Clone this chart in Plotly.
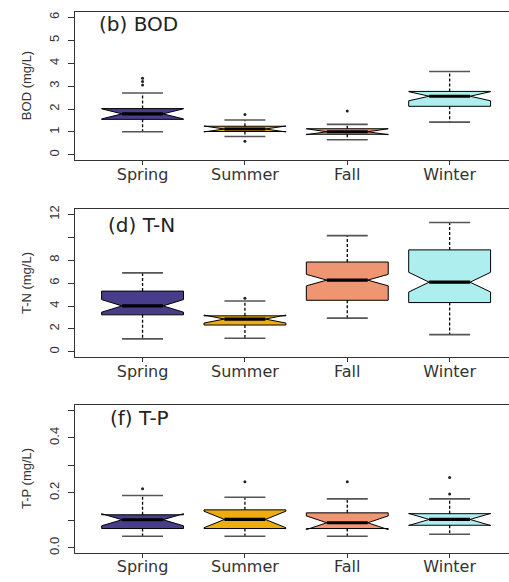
import plotly.graph_objects as go

seasons = ["Spring", "Summer", "Fall", "Winter"]
colors = ["#483D8B", "#EEAD0E", "#EE9572", "#AFEEEE"]

# (b) BOD
bod_q1 = [1.55, 1.02, 0.90, 2.12]
bod_med = [1.79, 1.13, 1.01, 2.56]
bod_q3 = [2.02, 1.25, 1.14, 2.77]
bod_lo = [1.01, 0.80, 0.66, 1.43]
bod_hi = [2.70, 1.52, 1.33, 3.64]
bod_notch = [0.22, 0.13, 0.13, 0.20]
bod_out = [[3.35, 3.20, 3.05], [1.76, 0.60], [1.92], []]

# (d) T-N
tn_q1 = [3.23, 2.34, 4.50, 4.30]
tn_med = [4.01, 2.86, 6.26, 6.08]
tn_q3 = [5.30, 3.14, 7.84, 8.90]
tn_lo = [1.13, 1.19, 2.94, 1.50]
tn_hi = [6.89, 4.44, 10.14, 11.29]
tn_notch = [0.55, 0.35, 0.50, 0.86]
tn_out = [[], [4.68], [], []]

# (f) T-P
tp_q1 = [0.070, 0.070, 0.070, 0.082]
tp_med = [0.102, 0.103, 0.091, 0.103]
tp_q3 = [0.120, 0.138, 0.127, 0.124]
tp_lo = [0.042, 0.042, 0.042, 0.049]
tp_hi = [0.190, 0.184, 0.178, 0.178]
tp_notch = [0.022, 0.030, 0.025, 0.022]
tp_out = [[0.215], [0.240], [0.240], [0.256, 0.196]]

panels = [
    dict(label="(b) BOD", title="BOD (mg/L)", q1=bod_q1, med=bod_med, q3=bod_q3,
         lo=bod_lo, hi=bod_hi, notch=bod_notch, out=bod_out,
         rng=[-0.24, 6.24], tv=[0, 1, 2, 3, 4, 5, 6], tt=["0", "1", "2", "3", "4", "5", "6"]),
    dict(label="(d) T-N", title="T-N (mg/L)", q1=tn_q1, med=tn_med, q3=tn_q3,
         lo=tn_lo, hi=tn_hi, notch=tn_notch, out=tn_out,
         rng=[-0.48, 12.48], tv=[0, 2, 4, 6, 8, 10, 12], tt=["0", "2", "4", "6", "8", "", "12"]),
    dict(label="(f) T-P", title="T-P (mg/L)", q1=tp_q1, med=tp_med, q3=tp_q3,
         lo=tp_lo, hi=tp_hi, notch=tp_notch, out=tp_out,
         rng=[-0.02, 0.52], tv=[0, 0.1, 0.2, 0.3, 0.4, 0.5], tt=["0.0", "", "0.2", "", "0.4", ""]),
]

H = 582.0
W = 509.0
frames = [(8, 158), (207, 357), (405, 555)]
label_pos = [(97, 20.5), (106, 223), (108, 418)]
xpos = [1, 2, 3, 4]
BW = 0.8

fig = go.Figure()
layout = dict(width=509, height=582, margin=dict(l=0, r=0, t=0, b=0),
              paper_bgcolor="white", plot_bgcolor="white", showlegend=False)
annotations = []

for k, p in enumerate(panels):
    sfx = "" if k == 0 else str(k + 1)
    xa, ya = "x" + sfx, "y" + sfx
    for i in range(4):
        fig.add_trace(go.Box(
            x=[xpos[i]], q1=[p["q1"][i]], median=[p["med"][i]], q3=[p["q3"][i]],
            lowerfence=[p["q1"][i]], upperfence=[p["q3"][i]], notchspan=[p["notch"][i]],
            notched=True, notchwidth=0.25, width=BW, whiskerwidth=0,
            fillcolor=colors[i], line=dict(color="black", width=1),
            boxpoints=False, hoverinfo="skip", xaxis=xa, yaxis=ya))
    wx, wy = [], []
    for i in range(4):
        wx += [xpos[i], xpos[i], None, xpos[i], xpos[i], None]
        wy += [p["q3"][i], p["hi"][i], None, p["q1"][i], p["lo"][i], None]
    fig.add_trace(go.Scatter(x=wx, y=wy, mode="lines",
                             line=dict(color="black", width=1.3, dash="3px,2px"),
                             hoverinfo="skip", xaxis=xa, yaxis=ya))
    sx, sy = [], []
    for i in range(4):
        for v in (p["hi"][i], p["lo"][i]):
            sx += [xpos[i] - BW / 4, xpos[i] + BW / 4, None]
            sy += [v, v, None]
    fig.add_trace(go.Scatter(x=sx, y=sy, mode="lines",
                             line=dict(color="#555555", width=1.6),
                             hoverinfo="skip", xaxis=xa, yaxis=ya))
    mx, my = [], []
    for i in range(4):
        mx += [xpos[i] - BW / 4, xpos[i] + BW / 4, None]
        my += [p["med"][i], p["med"][i], None]
    fig.add_trace(go.Scatter(x=mx, y=my, mode="lines",
                             line=dict(color="black", width=3.2),
                             hoverinfo="skip", xaxis=xa, yaxis=ya))
    ox, oy = [], []
    for i in range(4):
        for v in p["out"][i]:
            ox.append(xpos[i])
            oy.append(v)
    fig.add_trace(go.Scatter(x=ox, y=oy, mode="markers",
                             marker=dict(color="#222222", size=3),
                             hoverinfo="skip", xaxis=xa, yaxis=ya))

    top, bot = frames[k]
    dom = [1 - bot / H, 1 - top / H]
    layout["xaxis" + sfx] = dict(
        domain=[75 / W, 1], range=[0.34, 4.58], anchor=ya,
        tickvals=xpos, ticktext=seasons, ticks="outside", ticklen=4,
        tickcolor="#333", tickwidth=1, showline=True, mirror=True,
        linecolor="#333", linewidth=1, showgrid=False, zeroline=False,
        ticklabelstandoff=-5,
        tickfont=dict(family="DejaVu Sans", size=16, color="#333"))
    layout["yaxis" + sfx] = dict(
        domain=dom, range=p["rng"], anchor=xa,
        tickvals=p["tv"], ticktext=p["tt"], ticks="outside", ticklen=6,
        tickcolor="#333", tickwidth=1, showline=True, mirror=False,
        linecolor="#333", linewidth=1, showgrid=False, zeroline=False,
        tickangle=-90, ticklabelstandoff=4,
        tickfont=dict(family="Liberation Sans", size=13, color="#333"))
    lx, ly = label_pos[k]
    annotations.append(dict(text=p["label"], xref="paper", yref="paper",
                            x=lx / W, y=1 - ly / H, xanchor="left", yanchor="middle",
                            showarrow=False,
                            font=dict(family="DejaVu Sans", size=20, color="#222")))
    annotations.append(dict(text=p["title"], xref="paper", yref="paper",
                            x=26 / W, y=1 - (top + bot) / 2 / H, xanchor="center",
                            yanchor="middle", textangle=-90, showarrow=False,
                            font=dict(family="Liberation Sans", size=13, color="#333")))

layout["annotations"] = annotations
fig.update_layout(**layout)
fig.write_html("out.html")
